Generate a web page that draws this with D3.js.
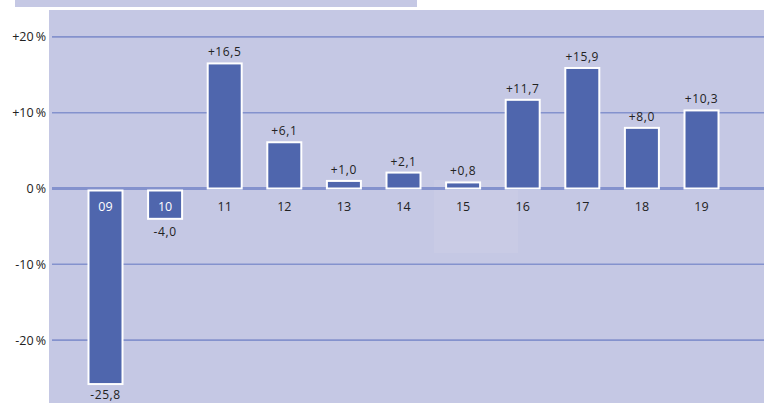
<!DOCTYPE html>
<html>
<head>
<meta charset="utf-8">
<script src="https://cdn.jsdelivr.net/npm/d3@7"></script>
<style>
  body { margin: 0; background: #fff; }
  svg { display: block; font-family: "Open Sans", sans-serif; }
</style>
</head>
<body>
<svg id="chart"></svg>
<script>
// years (2009-2019), change in %
const years = ["09", "10", "11", "12", "13", "14", "15", "16", "17", "18", "19"];
const values = [-25.8, -4.0, 16.5, 6.1, 1.0, 2.1, 0.8, 11.7, 15.9, 8.0, 10.3];
const yTicks = [20, 10, 0, -10, -20];

const width = 764;
const height = 403;
const bg = "#c5c8e4";
const barColor = "#4f66ad";
const gridColor = "#8492cd";

const svg = d3.select("#chart")
    .attr("width", width)
    .attr("height", height);

// plot background + header box
svg.append("rect")
    .attr("x", 49).attr("y", 10)
    .attr("width", width - 49).attr("height", height - 10)
    .attr("fill", bg);

svg.append("rect")
    .attr("x", 14).attr("y", -4)
    .attr("width", 404).attr("height", 12)
    .attr("fill", bg)
    .attr("stroke", "#fff")
    .attr("stroke-width", 2);

const y = d3.scaleLinear()
    .domain([0, 10])
    .range([188.5, 112.7]);

const x = d3.scalePoint()
    .domain(years)
    .range([105.5, 701.5]);

const barW = 34;

// faint watermark patch
svg.append("rect")
    .attr("x", 434).attr("y", 180)
    .attr("width", 84).attr("height", 73)
    .attr("fill", "#ffffff")
    .attr("opacity", 0.07);

// grid lines
svg.append("g")
    .selectAll("line")
    .data(yTicks)
    .join("line")
    .attr("x1", 52)
    .attr("x2", width)
    .attr("y1", d => y(d))
    .attr("y2", d => y(d))
    .attr("stroke", gridColor)
    .attr("stroke-width", d => d === 0 ? 3 : 1.6);

// y labels
svg.append("g")
    .selectAll("text")
    .data(yTicks)
    .join("text")
    .attr("x", 46)
    .attr("y", d => y(d) + 4.5)
    .attr("text-anchor", "end")
    .attr("font-size", 12.5)
    .attr("fill", "#222")
    .text(d => (d > 0 ? "+" : "") + d + "\u2009%");

// bars
const bars = svg.append("g");
bars.selectAll("rect")
    .data(values)
    .join("rect")
    .attr("x", (d, i) => x(years[i]) - barW / 2)
    .attr("y", d => d >= 0 ? y(d) : y(0) + 2)
    .attr("width", barW)
    .attr("height", d => d >= 0 ? y(0) - y(d) : y(d) - y(0) - 2)
    .attr("fill", barColor)
    .attr("stroke", "#fff")
    .attr("stroke-width", 2);

const fmt = d => (d > 0 ? "+" : d < 0 ? "-" : "") + Math.abs(d).toFixed(1).replace(".", ",");

// value labels
svg.append("g")
    .selectAll("text")
    .data(values)
    .join("text")
    .attr("x", (d, i) => x(years[i]))
    .attr("y", d => d >= 0 ? y(d) - 7 : Math.min(y(d) + 17, 399))
    .attr("text-anchor", "middle")
    .attr("font-size", 12)
    .attr("letter-spacing", 0.6)
    .attr("fill", "#222")
    .text(fmt);

// year labels (white inside negative bars)
svg.append("g")
    .selectAll("text")
    .data(values)
    .join("text")
    .attr("x", (d, i) => x(years[i]))
    .attr("y", y(0) + 22)
    .attr("text-anchor", "middle")
    .attr("font-size", 12.5)
    .attr("fill", d => d < 0 ? "#fff" : "#222")
    .text((d, i) => years[i]);
</script>
</body>
</html>
